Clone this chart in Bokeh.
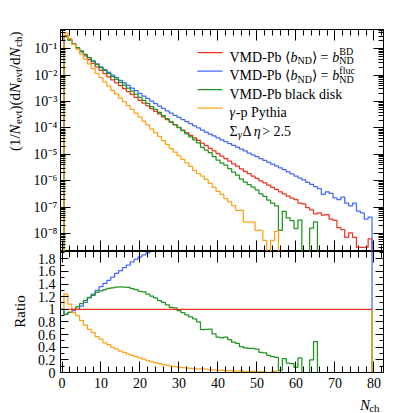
import math
from bokeh.plotting import figure
from bokeh.layouts import column, row
from bokeh.models import (Range1d, FixedTicker, CustomJSTickFormatter, Label,
                          LinearAxis, LogAxis)
from bokeh.embed import file_html
from bokeh.resources import INLINE

# ---------------- data ----------------
nch = list(range(0, 80))  # bin centres, bin width 1

vmd_bd = [0, 3.16e-1, 2.24e-1, 1.55e-1, 1.07e-1, 7.59e-2, 5.37e-2, 3.89e-2, 2.82e-2, 2.04e-2, 1.51e-2,
          1.15e-2, 8.71e-3, 6.61e-3, 5.13e-3, 3.98e-3, 3.09e-3, 2.40e-3, 1.86e-3, 1.45e-3, 1.12e-3,
          8.71e-4, 6.92e-4, 5.37e-4, 4.27e-4, 3.39e-4, 2.63e-4, 2.09e-4, 1.66e-4, 1.32e-4, 1.05e-4,
          8.32e-5, 6.61e-5, 5.25e-5, 4.17e-5, 3.39e-5, 2.69e-5, 2.14e-5, 1.70e-5, 1.35e-5, 1.07e-5,
          8.51e-6, 6.92e-6, 5.50e-6, 4.37e-6, 3.55e-6, 2.82e-6, 2.29e-6, 1.86e-6, 1.51e-6, 1.23e-6,
          1.00e-6, 8.32e-7, 6.76e-7, 5.62e-7, 4.68e-7, 3.80e-7, 3.16e-7, 2.63e-7, 2.19e-7, 1.91e-7,
          1.41e-7, 1.32e-7, 9.55e-8, 7.94e-8, 5.62e-8, 6.03e-8, 5.01e-8, 5.25e-8, 3.55e-8, 3.16e-8,
          1.66e-8, 1.41e-8, 7.24e-9, 1.05e-8, 7.24e-9, 3.02e-9, 3.02e-9, 3.02e-9, 6.31e-9]

vmd_fluc = [0, 2.91e-1, 2.13e-1, 1.52e-1, 1.07e-1, 7.97e-2, 5.96e-2, 4.59e-2, 3.50e-2, 2.65e-2, 2.05e-2,
            1.62e-2, 1.27e-2, 9.98e-3, 8.05e-3, 6.41e-3, 5.13e-3, 4.08e-3, 3.26e-3, 2.60e-3, 2.05e-3,
            1.62e-3, 1.31e-3, 1.04e-3, 8.41e-4, 6.76e-4, 5.50e-4, 4.47e-4, 3.63e-4, 3.02e-4, 2.51e-4,
            2.09e-4, 1.74e-4, 1.45e-4, 1.20e-4, 1.00e-4, 8.32e-5, 6.92e-5, 5.89e-5, 5.01e-5, 4.17e-5,
            3.55e-5, 3.02e-5, 2.57e-5, 2.19e-5, 1.86e-5, 1.58e-5, 1.35e-5, 1.12e-5, 9.55e-6, 8.13e-6,
            6.92e-6, 5.89e-6, 5.01e-6, 4.27e-6, 3.63e-6, 3.09e-6, 2.63e-6, 2.19e-6, 1.82e-6, 1.51e-6,
            1.26e-6, 1.07e-6, 8.71e-7, 7.24e-7, 6.03e-7, 5.01e-7, 3.02e-7, 3.80e-7, 3.31e-7, 2.24e-7,
            1.91e-7, 2.40e-7, 1.41e-7, 1.12e-7, 1.41e-7, 7.08e-8, 6.03e-8, 3.55e-8, 4.17e-8]

vmd_disk = [0, 2.91e-1, 2.13e-1, 1.55e-1, 1.11e-1, 8.27e-2, 6.12e-2, 4.63e-2, 3.44e-2, 2.59e-2, 1.95e-2,
            1.51e-2, 1.16e-2, 8.86e-3, 6.93e-3, 5.39e-3, 4.17e-3, 3.23e-3, 2.47e-3, 1.90e-3, 1.44e-3,
            1.11e-3, 8.58e-4, 6.50e-4, 5.04e-4, 3.86e-4, 2.92e-4, 2.24e-4, 1.71e-4, 1.35e-4, 1.03e-4,
            7.90e-5, 6.02e-5, 4.62e-5, 3.54e-5, 2.71e-5, 1.83e-5, 1.46e-5, 1.17e-5, 8.24e-6, 5.99e-6,
            4.68e-6, 3.88e-6, 2.86e-6, 2.10e-6, 1.63e-6, 1.16e-6, 8.93e-7, 7.07e-7, 5.74e-7, 4.55e-7,
            3.20e-7, 2.58e-7, 1.83e-7, 1.41e-7, 1.12e-7, 1.33e-8, 6.95e-8, 3.95e-8, 3.07e-8, 1.53e-8,
            3.24e-8, 0, 0, 1.59e-8, 2.75e-8, 0, 0, 0, 0, 0,
            0, 0, 0, 0, 0, 0, 0, 0, 0]

pythia = [0, 3.92e-1, 2.42e-1, 1.47e-1, 9.63e-2, 6.22e-2, 4.03e-2, 2.65e-2, 1.78e-2, 1.16e-2, 8.00e-3,
          5.41e-3, 3.83e-3, 2.64e-3, 1.90e-3, 1.35e-3, 9.89e-4, 6.96e-4, 5.02e-4, 3.63e-4, 2.58e-4,
          1.83e-4, 1.31e-4, 9.13e-5, 6.62e-5, 4.75e-5, 3.29e-5, 2.40e-5, 1.66e-5, 1.21e-5, 8.93e-6,
          6.49e-6, 4.76e-6, 3.47e-6, 2.50e-6, 1.86e-6, 1.51e-6, 1.12e-6, 7.94e-7, 5.62e-7, 3.98e-7,
          3.02e-7, 2.09e-7, 1.58e-7, 1.15e-7, 7.59e-8, 7.59e-8, 2.69e-8, 2.69e-8, 2.69e-8, 1.32e-8,
          1.32e-8, 5.50e-9, 0, 5.50e-9, 1.20e-8, 0, 0, 0, 0, 0,
          0, 0, 0, 0, 0, 0, 0, 0, 0, 0,
          0, 0, 0, 0, 0, 0, 0, 0, 0]

x_major = [0, 10, 20, 30, 40, 50, 60, 70, 80]
ratio_major = [0, 0.2, 0.4, 0.6, 0.8, 1.0, 1.2, 1.4, 1.6, 1.8]
log_major = [1e-8, 1e-7, 1e-6, 1e-5, 1e-4, 1e-3, 1e-2, 1e-1]

# ---------------- style / geometry ----------------
FONT = "Liberation Serif"
RED, BLUE, GREEN, ORANGE = "#f0321e", "#4169ff", "#1e961e", "#ffa214"
LW = 1.25

PAGE_W, PAGE_H = 399, 413
LW_STRIP = 30                       # left strip holding the rotated axis titles
W = PAGE_W - LW_STRIP               # width of the plot column
LEFT, RIGHT = 60 - LW_STRIP, 16
FW = W - LEFT - RIGHT               # 323
TOP1, FH1 = 29, 222
H1 = TOP1 + FH1                     # 251
FH2, BOT2 = 121, 20
H2 = FH2 + BOT2
HX = PAGE_H - H1 - H2               # bottom strip with the x title
X0, X1 = -0.385, 82.44
LOG_TOP, LOG_BOT = -0.27, -8.68
R0, R1 = 0.0, 1.915
FLOOR = 1e-12
PAGE_L, PAGE_T1 = 60.0, 29.0


def px_to_x(xp):
    return X0 + (xp - PAGE_L) * (X1 - X0) / FW


def py_to_logy(yp):
    return 10 ** (LOG_TOP - (yp - PAGE_T1) * (LOG_TOP - LOG_BOT) / FH1)


def ident(v):
    return v


W_EM = {' ': 0.25, '-': 0.333, 'V': 0.722, 'M': 0.889, 'D': 0.722, 'P': 0.556, 'b': 0.5,
        'N': 0.722, 'B': 0.667, 'f': 0.333, 'l': 0.278, 'u': 0.5, 'c': 0.444, 'a': 0.444,
        'k': 0.5, 'i': 0.278, 's': 0.389, 'p': 0.5, 'y': 0.5, 't': 0.278, 'h': 0.5,
        'e': 0.444, 'v': 0.5, 'd': 0.5, '(': 0.333, ')': 0.333, '/': 0.278, '1': 0.5,
        '2': 0.5, '5': 0.5, '.': 0.25, '=': 0.564, '>': 0.564, '⟨': 0.39, '⟩': 0.39,
        'γ': 0.45, 'Σ': 0.6, 'Δ': 0.56, 'η': 0.6, 'R': 0.667, 'o': 0.5}


def text_width(s, size, style):
    w = sum(W_EM.get(ch, 0.5) for ch in s) * size
    if style == "italic" and s == "N":
        w = 0.70 * size
    return w


def add_pieces(fig, to_x, to_y, x0, base, pieces, angle=0.0):
    adv = 0.0
    for txt, size, style, shift, advance in pieces:
        if angle == 0.0:
            xp, yp = x0 + adv, base + shift
        else:
            xp, yp = x0 + shift, base - adv
        fig.add_layout(Label(x=to_x(xp), y=to_y(yp), text=txt, text_font=FONT,
                             text_font_size=f"{size}px", text_font_style=style,
                             text_color="black", text_align="left",
                             text_baseline="alphabetic", angle=angle))
        if advance:
            adv += text_width(txt, size, style)
    return adv


def style_axis(ax, ticker, formatter, maj, mnr, standoff, labels=True):
    ax.ticker = ticker
    ax.formatter = formatter if labels else CustomJSTickFormatter(code="return '';")
    ax.major_tick_in, ax.major_tick_out = maj, 0
    ax.minor_tick_in, ax.minor_tick_out = mnr, 0
    ax.major_tick_line_color = "black"
    ax.minor_tick_line_color = "black"
    ax.axis_line_color = "black"
    ax.major_label_text_font = FONT
    ax.major_label_text_font_size = "14px"
    ax.major_label_text_color = "black"
    ax.major_label_standoff = standoff if labels else 0


def bare_figure(width, height, xr, yr):
    f = figure(width=width, height=height, x_range=xr, y_range=yr,
               x_axis_location=None, y_axis_location=None,
               output_backend="svg", toolbar_location=None,
               min_border_left=0, min_border_right=0, min_border_top=0, min_border_bottom=0)
    f.xgrid.visible = False
    f.ygrid.visible = False
    f.outline_line_color = None
    f.background_fill_color = "white"
    f.border_fill_color = "white"
    return f


x_ticker = FixedTicker(ticks=x_major, minor_ticks=list(range(0, 84, 2)))
log_minor = [m * 10.0 ** e for e in range(-9, 0) for m in range(2, 10)]
log_ticker = FixedTicker(ticks=log_major, minor_ticks=log_minor)
ratio_ticker = FixedTicker(ticks=ratio_major, minor_ticks=[k / 10 for k in range(0, 20)])

log_fmt = CustomJSTickFormatter(code="""
const e = Math.round(Math.log10(tick));
const sup = {"-":"\u207b","0":"\u2070","1":"\u00b9","2":"\u00b2","3":"\u00b3","4":"\u2074",
             "5":"\u2075","6":"\u2076","7":"\u2077","8":"\u2078","9":"\u2079"};
return "10" + String(e).split("").map(c => sup[c]).join("");
""")
ratio_fmt = CustomJSTickFormatter(code="return String(Math.round(tick*10)/10);")
x_fmt = CustomJSTickFormatter(code="return String(Math.round(tick));")


def step_path(values, post):
    xs, ys = [], []
    for c, v in zip(nch, values):
        xs += [c - 0.5, c + 0.5]
        ys += [v, v]
    xs.append(nch[-1] + 0.5)
    ys.append(post)
    return xs, ys


# ---------------- main panel ----------------
xr = Range1d(X0, X1)
p1 = figure(width=W, height=H1, x_range=xr, y_range=Range1d(10 ** LOG_BOT, 10 ** LOG_TOP),
            y_axis_type="log", output_backend="svg", toolbar_location=None,
            min_border_left=LEFT, min_border_right=RIGHT, min_border_top=TOP1,
            min_border_bottom=0)
p1.add_layout(LogAxis(), "right")
p1.add_layout(LinearAxis(), "above")
for ax in p1.left:
    style_axis(ax, log_ticker, log_fmt, 10, 5, 3)
for ax in p1.right:
    style_axis(ax, log_ticker, None, 10, 5, 0, labels=False)
for ax in p1.below + p1.above:
    style_axis(ax, x_ticker, None, 11, 6, 0, labels=False)

series = [(vmd_bd, RED), (vmd_fluc, BLUE), (vmd_disk, GREEN), (pythia, ORANGE)]
for vals, col in series:
    xs, ys = step_path([v if v > 0 else FLOOR for v in vals], FLOOR)
    p1.line(xs, ys, line_color=col, line_width=LW)

# legend (drawn by hand for sub/superscripts)
leg_x0, leg_x1, txt_x = 197.0, 222.0, 229.0
rows = [56.5, 75.0, 93.5, 112.0, 130.5]
for (vals, col), base in zip(series, rows[:4]):
    yy = py_to_logy(base - 4.5)
    p1.line([px_to_x(leg_x0), px_to_x(leg_x1)], [yy, yy], line_color=col, line_width=LW)

S, s = 14, 10
sub, sup = 3.5, -5.5
for base, upper in [(rows[0], "BD"), (rows[1], "fluc")]:
    add_pieces(p1, px_to_x, py_to_logy, txt_x, base, [
        ("VMD-Pb \u27e8", S, "normal", 0, True),
        ("b", S, "italic", 0, True),
        ("ND", s, "normal", sub, True),
        ("\u27e9 = ", S, "normal", 0, True),
        ("b", S, "italic", 0, True),
        (upper, s, "normal", sup, False),
        ("ND", s, "normal", sub, True),
    ])
add_pieces(p1, px_to_x, py_to_logy, txt_x, rows[2], [("VMD-Pb black disk", S, "normal", 0, True)])
add_pieces(p1, px_to_x, py_to_logy, txt_x, rows[3], [
    ("\u03b3", S, "italic", 0, True), ("-p Pythia", S, "normal", 0, True)])
add_pieces(p1, px_to_x, py_to_logy, txt_x, rows[4], [
    ("\u03a3", S, "normal", 0, True), ("\u03b3", s, "italic", sub, True),
    (" \u0394", S, "normal", 0, True), ("\u03b7", S, "italic", 0, True),
    (" > 2.5", S, "normal", 0, True)])

# ---------------- ratio panel ----------------
p2 = figure(width=W, height=H2, x_range=xr, y_range=Range1d(R0, R1),
            output_backend="svg", toolbar_location=None,
            min_border_left=LEFT, min_border_right=RIGHT, min_border_top=0,
            min_border_bottom=BOT2)
p2.add_layout(LinearAxis(), "right")
p2.add_layout(LinearAxis(), "above")
for ax in p2.left:
    style_axis(ax, ratio_ticker, ratio_fmt, 8, 4, 5)
for ax in p2.right:
    style_axis(ax, ratio_ticker, None, 8, 4, 0, labels=False)
for ax in p2.below:
    style_axis(ax, x_ticker, x_fmt, 11, 6, 5)
for ax in p2.above:
    style_axis(ax, x_ticker, None, 11, 6, 0, labels=False)

ref = vmd_bd
for vals, col in [(vmd_fluc, BLUE), (vmd_disk, GREEN), (pythia, ORANGE), (vmd_bd, RED)]:
    ratio = [v / r if r > 0 else 1.0 for v, r in zip(vals, ref)]
    xs, ys = step_path(ratio, 1.0)
    p2.line(xs, ys, line_color=col, line_width=LW)

for p in (p1, p2):
    p.xgrid.visible = False
    p.ygrid.visible = False
    p.outline_line_color = "black"
    p.outline_line_width = 1
    p.background_fill_color = "white"
    p.border_fill_color = "white"

# ---------------- strips holding the axis titles (page pixel coordinates) ----------------
ystrip = bare_figure(LW_STRIP, PAGE_H, Range1d(0, LW_STRIP), Range1d(PAGE_H, 0))
TS, ts = 15, 11
ylab = [("(1/", TS, "normal", 0, True), ("N", TS, "italic", 0, True), ("evt", ts, "normal", 3.5, True),
        (")(d", TS, "normal", 0, True), ("N", TS, "italic", 0, True), ("evt", ts, "normal", 3.5, True),
        ("/d", TS, "normal", 0, True), ("N", TS, "italic", 0, True), ("ch", ts, "normal", 3.5, True),
        (")", TS, "normal", 0, True)]
total = sum(text_width(t, z, st) for t, z, st, _, a in ylab)
add_pieces(ystrip, ident, ident, 14.0, 31.0 + total, ylab, angle=math.pi / 2)
ystrip.add_layout(Label(x=19.0, y=311.0, text="Ratio", text_font=FONT,
                        text_font_size=f"{TS}px", text_color="black", text_align="center",
                        text_baseline="alphabetic", angle=math.pi / 2))

xstrip = bare_figure(W, HX, Range1d(LW_STRIP, PAGE_W), Range1d(PAGE_H, H1 + H2))
n_w = text_width("N", TS, "italic")
ch_w = text_width("ch", ts, "normal")
n_x = 393.0 - ch_w - n_w
xstrip.add_layout(Label(x=n_x, y=404.5, text="N", text_font=FONT,
                        text_font_size=f"{TS}px", text_font_style="italic", text_color="black",
                        text_align="left", text_baseline="alphabetic"))
xstrip.add_layout(Label(x=n_x + n_w, y=407.5, text="ch", text_font=FONT,
                        text_font_size=f"{ts}px", text_color="black",
                        text_align="left", text_baseline="alphabetic"))

layout = row(ystrip, column(p1, p2, xstrip))
open("out.html", "w").write(file_html(layout, INLINE))
